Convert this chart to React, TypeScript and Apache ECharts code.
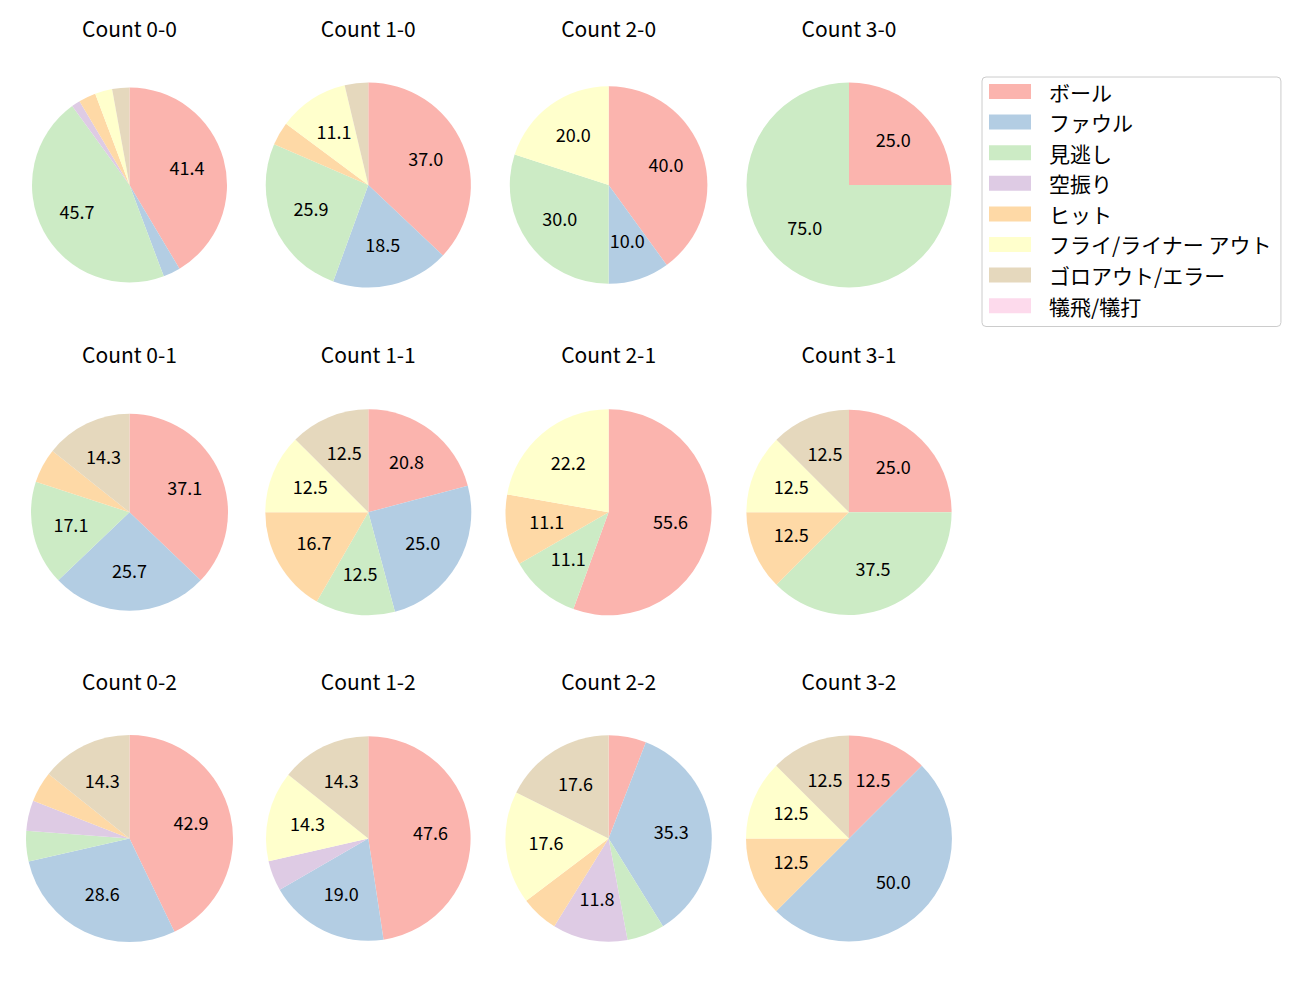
import React, { useEffect, useRef } from 'react';
import * as echarts from 'echarts';

const categories = [
  'ボール',
  'ファウル',
  '見逃し',
  '空振り',
  'ヒット',
  'フライ/ライナー アウト',
  'ゴロアウト/エラー',
  '犠飛/犠打',
];
const colors = ['#fbb4ae', '#b3cde3', '#ccebc5', '#decbe4', '#fed9a6', '#ffffcc', '#e5d8bd', '#fddaec'];

const pieTitles = [
  'Count 0-0', 'Count 1-0', 'Count 2-0', 'Count 3-0',
  'Count 0-1', 'Count 1-1', 'Count 2-1', 'Count 3-1',
  'Count 0-2', 'Count 1-2', 'Count 2-2', 'Count 3-2',
];

// pitch counts per category, in the order of `categories`
const count00 = [29, 2, 32, 1, 2, 2, 2, 0];
const count10 = [10, 5, 7, 0, 1, 3, 1, 0];
const count20 = [4, 1, 3, 0, 0, 2, 0, 0];
const count30 = [1, 0, 3, 0, 0, 0, 0, 0];
const count01 = [13, 9, 6, 0, 2, 0, 5, 0];
const count11 = [5, 6, 3, 0, 4, 3, 3, 0];
const count21 = [5, 0, 1, 0, 1, 2, 0, 0];
const count31 = [2, 0, 3, 0, 1, 1, 1, 0];
const count02 = [9, 6, 1, 1, 1, 0, 3, 0];
const count12 = [10, 4, 0, 1, 0, 3, 3, 0];
const count22 = [1, 6, 1, 2, 1, 3, 3, 0];
const count32 = [1, 4, 0, 0, 1, 1, 1, 0];

const pieCounts = [
  count00, count10, count20, count30,
  count01, count11, count21, count31,
  count02, count12, count22, count32,
];

// layout
const colX = [129.5, 368.3, 608.6, 849];
const rowY = [185, 512.3, 838.5];
const titleY = [28.5, 355, 681.5];
const radii = [97.5, 102.6, 98.8, 102.5, 98.5, 103, 103, 102.6, 103.5, 102.3, 103.2, 103];

export default function App() {
  const ref = useRef<HTMLDivElement>(null);
  useEffect(() => {
    document.body.style.margin = '0';
    const chart = echarts.init(ref.current as HTMLDivElement, null, { renderer: 'svg' });
    const font = "'Noto Sans CJK JP', 'Noto Sans', sans-serif";
    const series: any[] = [];
    const labelSeries: any[] = [];
    const titles: any[] = [];

    pieCounts.forEach((counts, i) => {
      const col = i % 4;
      const row = Math.floor(i / 4);
      const total = counts.reduce((a, b) => a + b, 0);
      const data = categories.map((name, k) => ({ name, value: counts[k] }));
      series.push({
        type: 'pie',
        center: [colX[col], rowY[row]],
        radius: radii[i],
        startAngle: 90,
        clockwise: true,
        data,
        label: { show: false },
        labelLine: { show: false },
        itemStyle: { borderWidth: 0 },
        emphasis: { disabled: true },
        silent: true,
      });
      // transparent twin pie: inside labels sit at half its radius
      labelSeries.push({
        type: 'pie',
        center: [colX[col], rowY[row]],
        radius: radii[i] * 1.16,
        startAngle: 90,
        clockwise: true,
        data,
        itemStyle: { color: 'rgba(0,0,0,0)', borderWidth: 0 },
        label: {
          show: true,
          position: 'inside',
          color: '#000',
          fontFamily: font,
          fontSize: 18,
          offset: [0, -2],
          formatter: (p: any) => {
            const pct = (p.value / total) * 100;
            return pct >= 10 ? pct.toFixed(1) : '';
          },
        },
        labelLine: { show: false },
        emphasis: { disabled: true },
        silent: true,
      });
      titles.push({
        text: pieTitles[i],
        left: colX[col],
        top: titleY[row] - 12,
        textAlign: 'center',
        padding: 0,
        textStyle: {
          fontFamily: font,
          fontSize: 21,
          fontWeight: 'normal',
          color: '#000',
          lineHeight: 22,
        },
      });
    });

    chart.setOption({
      animation: false,
      backgroundColor: '#ffffff',
      color: colors,
      title: titles,
      legend: {
        orient: 'vertical',
        left: 982,
        top: 77,
        data: categories,
        icon: 'rect',
        itemWidth: 42,
        itemHeight: 15,
        itemGap: 9.6,
        padding: [4, 9, 10.3, 7],
        borderColor: '#cccccc',
        borderWidth: 1,
        borderRadius: 4,
        backgroundColor: '#ffffff',
        selectedMode: false,
        textStyle: {
          fontFamily: font,
          fontSize: 21,
          color: '#000',
          lineHeight: 20,
          padding: [0, 0, 0, 13],
        },
      },
      series: [...series, ...labelSeries],
    });
    return () => chart.dispose();
  }, []);
  return <div ref={ref} style={{ width: 1300, height: 1000 }} />;
}
